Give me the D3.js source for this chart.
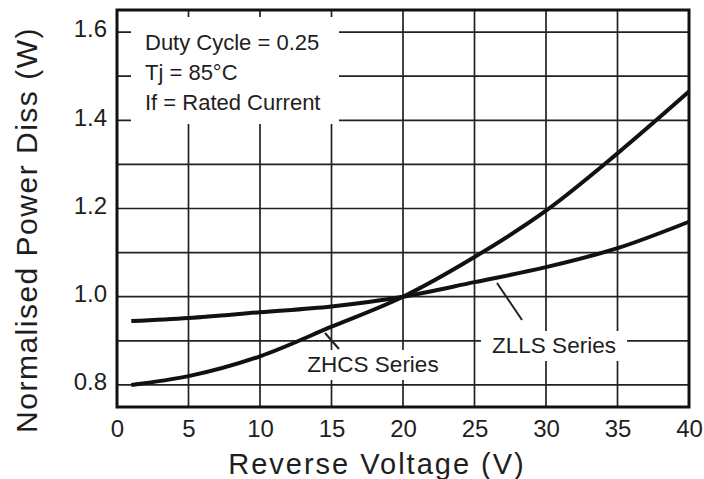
<!DOCTYPE html>
<html>
<head>
<meta charset="utf-8">
<script src="https://cdn.jsdelivr.net/npm/d3@7"></script>
<style>
  body { margin: 0; background: #fff; }
  text { font-family: "Liberation Sans", Arial, sans-serif; fill: #1e1e1e; }
</style>
</head>
<body>
<script>
var voltage = [1, 5, 10, 15, 20, 25, 30, 35, 40];
var zhcs = [0.80, 0.82, 0.865, 0.932, 1.0, 1.09, 1.195, 1.325, 1.465];
var zlls = [0.945, 0.952, 0.965, 0.978, 1.0, 1.033, 1.067, 1.11, 1.17];
var xTicks = [0, 5, 10, 15, 20, 25, 30, 35, 40];
var yTicks = [0.8, 1.0, 1.2, 1.4, 1.6];
var yGrid = [0.8, 0.9, 1.0, 1.1, 1.2, 1.3, 1.4, 1.5, 1.6];
var notes = ["Duty Cycle = 0.25", "Tj = 85\u00b0C", "If = Rated Current"];

var width = 704,
    height = 479,
    plotL = 117, plotR = 689, plotT = 10, plotB = 407;

var x = d3.scaleLinear().domain([0, 40]).range([plotL, plotR]);
var y = d3.scaleLinear().domain([0.75, 1.65]).range([plotB, plotT]);

var svg = d3.select("body").append("svg")
    .attr("width", width)
    .attr("height", height);

// grid
svg.append("g").selectAll("line")
    .data(xTicks.slice(1, -1))
  .enter().append("line")
    .attr("x1", function(d) { return x(d); })
    .attr("x2", function(d) { return x(d); })
    .attr("y1", plotT).attr("y2", plotB)
    .style("stroke", "#222").style("stroke-width", 1.7);

svg.append("g").selectAll("line")
    .data(yGrid)
  .enter().append("line")
    .attr("x1", plotL).attr("x2", plotR)
    .attr("y1", function(d) { return y(d); })
    .attr("y2", function(d) { return y(d); })
    .style("stroke", "#222").style("stroke-width", 1.7);

// note box covers the grid
svg.append("rect")
    .attr("x", 131).attr("y", 17)
    .attr("width", 208).attr("height", 107)
    .style("fill", "#fff");

svg.append("g").selectAll("text")
    .data(notes)
  .enter().append("text")
    .attr("x", 145)
    .attr("y", function(d, i) { return 50 + i * 30; })
    .style("font-size", "22px")
    .text(function(d) { return d; });

// curves
var line = d3.line()
    .x(function(d) { return x(d[0]); })
    .y(function(d) { return y(d[1]); })
    .curve(d3.curveMonotoneX);

[zhcs, zlls].forEach(function(s) {
  svg.append("path")
      .datum(voltage.map(function(v, i) { return [v, s[i]]; }))
      .attr("d", line)
      .style("fill", "none")
      .style("stroke", "#111")
      .style("stroke-width", 4);
});

// series labels
var labels = [
  {name: "ZHCS Series", tx: 373, ty: 372, lx: [325, 339], ly: [333, 349]},
  {name: "ZLLS Series", tx: 554, ty: 353, lx: [497, 522], ly: [283, 320]}
];
labels.forEach(function(l) {
  svg.append("rect")
      .attr("x", l.tx - 73).attr("y", l.ty - 22)
      .attr("width", 146).attr("height", 30)
      .style("fill", "#fff");
  svg.append("line")
      .attr("x1", l.lx[0]).attr("y1", l.ly[0])
      .attr("x2", l.lx[1]).attr("y2", l.ly[1])
      .style("stroke", "#222").style("stroke-width", 2);
  svg.append("text")
      .attr("x", l.tx).attr("y", l.ty)
      .attr("text-anchor", "middle")
      .style("font-size", "22.5px")
      .text(l.name);
});

// frame
svg.append("rect")
    .attr("x", plotL).attr("y", plotT)
    .attr("width", plotR - plotL).attr("height", plotB - plotT)
    .style("fill", "none")
    .style("stroke", "#111").style("stroke-width", 3);

// axes
var xAxis = svg.append("g")
    .attr("transform", "translate(0," + plotB + ")")
    .call(d3.axisBottom(x).tickValues(xTicks).tickSize(0).tickPadding(13));
var yAxis = svg.append("g")
    .attr("transform", "translate(" + plotL + ",0)")
    .call(d3.axisLeft(y).tickValues(yTicks).tickFormat(d3.format(".1f")).tickSize(0).tickPadding(10));
[xAxis, yAxis].forEach(function(a) {
  a.select(".domain").remove();
  a.selectAll("text").style("font-size", "24px").style("fill", "#1e1e1e")
      .style("font-family", "'Liberation Sans', Arial, sans-serif");
});
yAxis.selectAll("text").attr("dy", "0.2em");

svg.append("text")
    .attr("x", 377).attr("y", 474)
    .attr("text-anchor", "middle")
    .style("font-size", "29px")
    .style("letter-spacing", "2px")
    .text("Reverse Voltage (V)");

svg.append("text")
    .attr("transform", "translate(37,230) rotate(-90)")
    .attr("text-anchor", "middle")
    .style("font-size", "30px")
    .style("letter-spacing", "1.5px")
    .text("Normalised Power Diss (W)");
</script>
</body>
</html>
